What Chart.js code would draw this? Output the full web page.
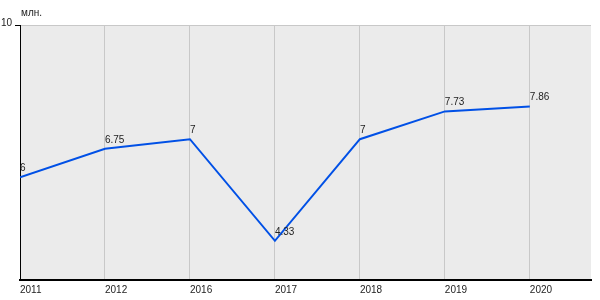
<!DOCTYPE html>
<html lang="ru">
<head>
    <meta charset="UTF-8">
    <title>млн.</title>
    <script src="https://cdn.jsdelivr.net/npm/chart.js"></script>
    <style>
        html, body { margin: 0; padding: 0; background: #fff; }
        #wrap { width: 600px; height: 300px; }
    </style>
</head>
<body>
    <div id="wrap"><canvas id="lineChart" width="600" height="300"></canvas></div>

    <script>
        // values
        const years = ['2011', '2012', '2016', '2017', '2018', '2019', '2020'];
        const values = [6, 6.75, 7, 4.33, 7, 7.73, 7.86];
        const valueLabels = ['6', '6.75', '7', '4.33', '7', '7.73', '7.86'];
        const yTicks = [10];
        const unitLabel = 'млн.';

        const FONT = '"Liberation Sans Narrow", "Liberation Sans", Arial, sans-serif';

        // grey plot background, unit caption and value labels
        const decorPlugin = {
            id: 'decor',
            beforeDraw(chart) {
                const { ctx, chartArea: a } = chart;
                ctx.save();
                ctx.fillStyle = '#ebebeb';
                ctx.fillRect(a.left, a.top, a.right - a.left, a.bottom - a.top);
                ctx.restore();
            },
            afterDatasetsDraw(chart) {
                const { ctx, chartArea: a } = chart;
                ctx.save();
                ctx.font = '10px ' + FONT;
                ctx.fillStyle = '#222';
                ctx.textAlign = 'left';
                ctx.textBaseline = 'alphabetic';
                ctx.fillText(unitLabel, a.left + 1, 16);
                const meta = chart.getDatasetMeta(0);
                meta.data.forEach((pt, i) => {
                    ctx.fillText(valueLabels[i], pt.x, pt.y - 6);
                });
                ctx.restore();
            }
        };

        const ctx = document.getElementById('lineChart').getContext('2d');
        const lineChart = new Chart(ctx, {
            type: 'line',
            data: {
                datasets: [{
                    data: years.map((y, i) => ({ x: i, y: values[i] })),
                    borderColor: '#0050e6',
                    borderWidth: 2,
                    pointRadius: 0,
                    tension: 0,
                    fill: false
                }]
            },
            options: {
                responsive: false,
                animation: false,
                layout: { padding: { top: 25, right: 9, left: 0, bottom: 0 } },
                plugins: {
                    legend: { display: false },
                    tooltip: { enabled: false }
                },
                scales: {
                    x: {
                        type: 'linear',
                        min: 0,
                        max: 6.72,
                        afterBuildTicks: scale => {
                            scale.ticks = years.map((y, i) => ({ value: i }));
                        },
                        afterFit: scale => { scale.height = 20; },
                        ticks: {
                            align: 'start',
                            maxRotation: 0,
                            autoSkip: false,
                            padding: 4,
                            color: '#222',
                            font: { family: FONT, size: 10 },
                            callback: v => years[v]
                        },
                        grid: { color: '#c8c8c8', lineWidth: 1, drawTicks: false },
                        border: { display: true, color: '#000', width: 2 }
                    },
                    y: {
                        min: 3.3,
                        max: 10,
                        afterBuildTicks: scale => {
                            scale.ticks = yTicks.map(v => ({ value: v }));
                        },
                        afterFit: scale => { scale.width = 20; },
                        ticks: {
                            padding: 3,
                            labelOffset: -2,
                            color: '#222',
                            font: { family: FONT, size: 10 }
                        },
                        grid: { color: '#c8c8c8', lineWidth: 1, tickColor: '#000', tickLength: 5 },
                        border: { display: true, color: '#000', width: 1 }
                    }
                }
            },
            plugins: [decorPlugin]
        });
    </script>
</body>
</html>
